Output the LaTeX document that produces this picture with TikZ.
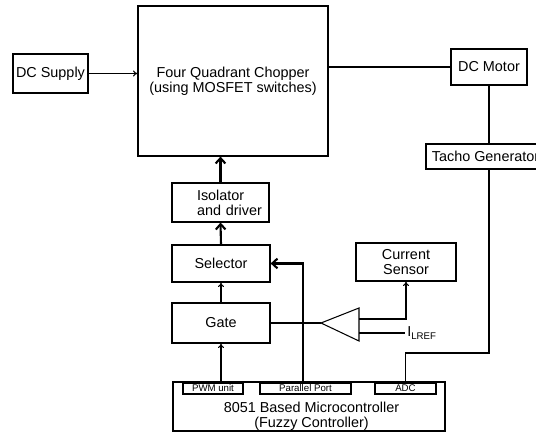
\documentclass[tikz,border=0pt]{standalone}
\usepackage{fontspec}
\setmainfont{Liberation Sans}
\usetikzlibrary{arrows.meta}
\newcommand{\blockfont}{\fontsize{8.2}{8.4}\selectfont}
\newcommand{\portfont}{\fontsize{5.5}{6}\selectfont}
\begin{document}
\begin{tikzpicture}[scale=0.2,
  block/.style={draw, line width=0.7pt, inner sep=0pt, font=\blockfont, align=center},
  port/.style={draw, line width=0.6pt, inner sep=0pt, font=\portfont},
  wire/.style={line width=0.6pt},
  sig/.style={wire, -{To[length=2.5pt,width=3.5pt]}},
  bus/.style={line width=1.2pt, -{Straight Barb[length=3pt,width=5.5pt]}}]
\useasboundingbox (0,0) rectangle (53.6,-43.4);
\node [block, minimum width=1.5cm, minimum height=0.78cm] (supply) at (5.05,-7.35) {DC Supply};
\node [block, minimum width=3.8cm, minimum height=3.0cm] (chopper) at (23.3,-8.1) {Four Quadrant Chopper\\(using MOSFET switches)};
\node [block, minimum width=1.52cm, minimum height=0.72cm] (motor) at (48.9,-6.7) {DC Motor};
\node [block, minimum width=2.38cm, minimum height=0.5cm] (tacho) at (48.55,-15.65) {Tacho Generator};
\node [block, minimum height=0.78cm, text width=1.94cm, align=left] (isolator) at (22.05,-20.25) {\hspace*{5mm}Isolator\\\hspace*{5mm}and driver};
\node [block, minimum width=1.96cm, minimum height=0.74cm] (selector) at (22.1,-26.35) {Selector};
\node [block, minimum width=1.96cm, minimum height=0.8cm] (gate) at (22.1,-32.3) {Gate};
\node [block, minimum width=2.0cm, minimum height=0.76cm] (sensor) at (40.6,-26.2) {Current\\Sensor};
\node [block, minimum width=5.44cm, minimum height=0.98cm] (micro) at (30.9,-40.65) {};
\node [font=\blockfont, align=center, inner sep=0pt] (mctext) at (31.15,-41.6) {8051 Based Microcontroller\\(Fuzzy Controller)};
\node [port, minimum width=1.2cm, minimum height=0.22cm] (pwm) at (21.3,-38.85) {PWM unit};
\node [port, minimum width=1.82cm, minimum height=0.22cm] (pport) at (30.55,-38.85) {Parallel Port};
\node [port, minimum width=1.22cm, minimum height=0.22cm] (adc) at (40.55,-38.85) {ADC};
\node [font=\blockfont, anchor=west, inner xsep=0.04cm, inner ysep=0pt] (iref) at (40.5,-33.3) {I\raisebox{-0.5ex}{\portfont LREF}};
\coordinate (amptip) at (32.1,-32.3);
\coordinate (ampin1) at (35.9,-31.9);
\coordinate (ampin2) at (35.9,-33.3);
\coordinate (fbk) at (48.9,-35.3);
\draw [wire] (amptip) -- (35.9,-30.8) -- (35.9,-34.1) -- cycle;
\draw [sig] (supply.east) -- (supply.east -| chopper.west);
\draw [wire] (motor.west -| chopper.east) -- (motor.west);
\draw [wire] (motor.south) -- (motor.south |- tacho.north);
\draw [wire] (fbk |- tacho.south) -- (fbk) -| (adc.north);
\draw [sig] (pwm.north -| gate.south) -- (gate.south);
\draw [sig] (gate.north) -- (selector.south);
\draw [bus] (selector.north) -- (isolator.south);
\draw [bus] (isolator.north) -- (isolator.north |- chopper.south);
\draw [bus] ([xshift=-0.21cm]pport.north) |- (selector.east);
\draw [wire] (gate.east) -- (amptip);
\draw [sig] (ampin1) -| (sensor.south);
\draw [wire] (ampin2) -- (iref.west);
\end{tikzpicture}
\end{document}
